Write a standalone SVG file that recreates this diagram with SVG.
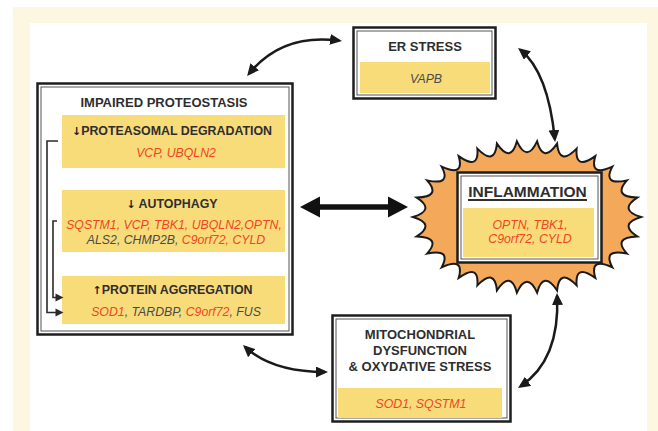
<svg xmlns="http://www.w3.org/2000/svg" width="658" height="431" viewBox="0 0 658 431">
<defs>
<style>
.box{fill:#fff;stroke:#1e1e1e;stroke-width:2.5}
.inner{fill:none;stroke:#555;stroke-width:1}
.yel{fill:#f9dc7a}
.h{font-family:"Liberation Sans",Arial,sans-serif;font-weight:bold;fill:#2e2e2e;text-anchor:middle}
.ar{font-family:"DejaVu Sans",sans-serif;font-weight:bold;font-size:11px;fill:#222}
.g{font-family:"Liberation Sans",Arial,sans-serif;font-style:italic;font-size:12.3px;text-anchor:middle}
.r{fill:#ef4623}
.k{fill:#4a4a4a}
.curve{fill:none;stroke:#1a1a1a;stroke-width:2.5}
.br{fill:none;stroke:#2a2a2a;stroke-width:1.6}
.bh{fill:#2a2a2a}
</style>
<marker id="ah" viewBox="0 0 12 11" markerUnits="userSpaceOnUse" markerWidth="12" markerHeight="11" refX="9" refY="5.5" orient="auto-start-reverse">
<path d="M0,0 L12,5.5 L0,11 Z" fill="#1a1a1a"/>
</marker>
</defs>
<g id="background">
<rect x="0" y="0" width="658" height="431" fill="#fff"/>
<rect x="13" y="7" width="645" height="424" fill="#fdf7e1"/>
<rect x="30" y="23" width="617" height="408" fill="#fff"/>
</g>
<g id="node-proteostasis">
<rect class="box" x="37.5" y="83.5" width="255" height="251"/>
<rect class="inner" x="41" y="87" width="248" height="244"/>
<text class="h" x="164" y="107" font-size="13">IMPAIRED PROTEOSTASIS</text>
<rect class="yel" x="62" y="115" width="223" height="53"/>
<text class="h" x="172" y="135" font-size="12.4"><tspan class="ar">↓</tspan>PROTEASOMAL DEGRADATION</text>
<text class="g" x="176" y="156.5"><tspan class="r">VCP, UBQLN2</tspan></text>
<rect class="yel" x="62" y="190" width="223" height="62"/>
<text class="h" x="172" y="208" font-size="12.4"><tspan class="ar">↓</tspan> AUTOPHAGY</text>
<text class="g" x="174" y="229"><tspan class="r">SQSTM1, VCP, TBK1, UBQLN2,OPTN,</tspan></text>
<text class="g" x="176" y="244"><tspan class="k">ALS2, CHMP2B, </tspan><tspan class="r">C9orf72, CYLD</tspan></text>
<rect class="yel" x="62" y="276" width="223" height="48"/>
<text class="h" x="172.5" y="294" font-size="12.4"><tspan class="ar">↑</tspan>PROTEIN AGGREGATION</text>
<text class="g" x="176" y="315.5"><tspan class="r">SOD1</tspan><tspan class="k">, TARDBP, </tspan><tspan class="r">C9orf72</tspan><tspan class="k">, FUS</tspan></text>
<path class="br" d="M58,141 H47 V312.5 H57"/>
<path class="bh" d="M63.5,312.5 L55.5,308.5 L55.5,316.5 Z"/>
<path class="br" d="M57,221 H53 V297.5 H57"/>
<path class="bh" d="M63.5,297.5 L55.5,293.5 L55.5,301.5 Z"/>
</g>
<g id="node-er-stress">
<rect class="box" x="353.5" y="27.5" width="142" height="71"/>
<rect class="inner" x="357" y="31" width="135" height="64"/>
<text class="h" x="425" y="50.5" font-size="13">ER STRESS</text>
<rect class="yel" x="360" y="62" width="130" height="31"/>
<text class="g" x="426" y="83"><tspan class="k">VAPB</tspan></text>
</g>
<g id="node-inflammation">
<path transform="translate(527,217)" fill="#f4a85a" stroke="#1a1a1a" stroke-width="2" stroke-linejoin="miter" d="M114,0 Q91.21,7.05 110.2,19.46 Q85.32,20.2 99.9,36.61 Q75.12,31.17 85.37,50.37 Q62.16,39.81 68.28,60.86 Q47.66,46.19 49.63,68.42 Q32.19,50.59 30.08,73.31 Q16.21,53.15 10.08,75.7 Q0,54 -10.08,75.7 Q-16.21,53.15 -30.08,73.31 Q-32.19,50.59 -49.63,68.42 Q-47.66,46.19 -68.28,60.86 Q-62.16,39.81 -85.37,50.37 Q-75.12,31.17 -99.9,36.61 Q-85.32,20.2 -110.2,19.46 Q-91.21,7.05 -114,0 Q-91.21,-7.05 -110.2,-19.46 Q-85.32,-20.2 -99.9,-36.61 Q-75.12,-31.17 -85.37,-50.37 Q-62.16,-39.81 -68.28,-60.86 Q-47.66,-46.19 -49.63,-68.42 Q-32.19,-50.59 -30.08,-73.31 Q-16.21,-53.15 -10.08,-75.7 Q0,-54 10.08,-75.7 Q16.21,-53.15 30.08,-73.31 Q32.19,-50.59 49.63,-68.42 Q47.66,-46.19 68.28,-60.86 Q62.16,-39.81 85.37,-50.37 Q75.12,-31.17 99.9,-36.61 Q85.32,-20.2 110.2,-19.46 Q91.21,-7.05 114,0 Z"/>
<rect class="box" x="457.5" y="172.5" width="144" height="90"/>
<rect class="inner" x="461" y="176" width="137" height="83"/>
<text class="h" x="527.5" y="197" font-size="15.5">INFLAMMATION</text>
<rect x="468" y="199" width="119" height="2" fill="#2e2e2e"/>
<rect class="yel" x="463" y="208" width="131" height="49"/>
<text class="g" x="530" y="229"><tspan class="r">OPTN, TBK1,</tspan></text>
<text class="g" x="530" y="243"><tspan class="r">C9orf72, CYLD</tspan></text>
</g>
<g id="node-mitochondrial">
<rect class="box" x="332.5" y="315.5" width="178" height="106"/>
<rect class="inner" x="336" y="319" width="171" height="99"/>
<text class="h" x="420" y="339" font-size="13">MITOCHONDRIAL</text>
<text class="h" x="420" y="355" font-size="13">DYSFUNCTION</text>
<text class="h" x="420" y="370.5" font-size="13">&amp; OXYDATIVE STRESS</text>
<rect class="yel" x="338" y="388" width="164" height="30"/>
<text class="g" x="421" y="408"><tspan class="r">SOD1, SQSTM1</tspan></text>
</g>
<g id="connectors">
<path class="curve" d="M249,73.7 Q282,33 339,40.6" marker-start="url(#ah)" marker-end="url(#ah)"/>
<path class="curve" d="M520.4,49.8 Q548,72 554.8,139" marker-start="url(#ah)" marker-end="url(#ah)"/>
<path class="curve" d="M245.2,347 Q272,372 325,372" marker-start="url(#ah)" marker-end="url(#ah)"/>
<path class="curve" d="M557.1,296 Q560,360 520.5,386.3" marker-start="url(#ah)" marker-end="url(#ah)"/>
<path d="M317,207 H391" stroke="#111" stroke-width="5.5" fill="none"/>
<path d="M300,207 L320,196.5 L320,217.5 Z" fill="#111"/>
<path d="M408,207 L388,196.5 L388,217.5 Z" fill="#111"/>
</g>
</svg>
